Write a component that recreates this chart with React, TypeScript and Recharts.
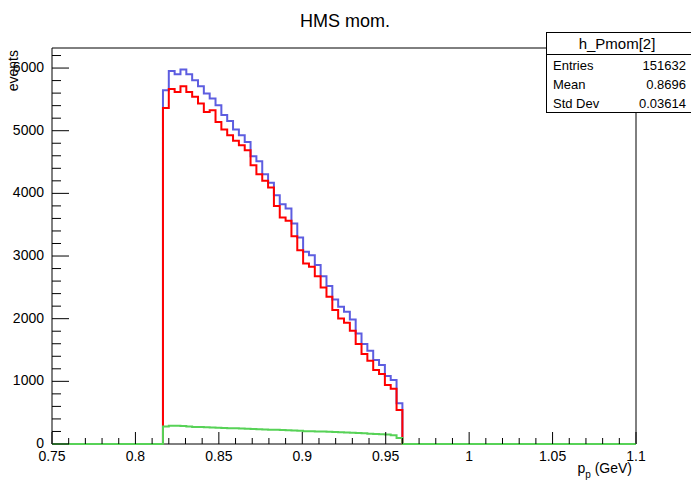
import { ComposedChart, Line, XAxis, YAxis, CartesianGrid } from 'recharts';

// histogram binning: 100 bins over 0.75 - 1.1 GeV, filled bins start at bin 19
const binLow = 0.75;
const binHigh = 1.1;
const nBins = 100;
const firstFilledBin = 19;

// counts per filled bin
const blueCounts = [
  5646, 5954, 5901, 5976, 5901, 5805, 5710, 5593, 5513, 5407,
  5250, 5156, 5019, 4928, 4821, 4593, 4513, 4306, 4168, 3971,
  3828, 3759, 3520, 3296, 3067, 3014, 2855, 2679, 2520, 2308,
  2190, 2110, 1988, 1765, 1595, 1488, 1340, 1260, 1085, 1020,
  650,
];
const redCounts = [
  5364, 5667, 5619, 5710, 5619, 5540, 5433, 5300, 5327, 5140,
  5019, 4928, 4838, 4769, 4689, 4450, 4306, 4200, 4094, 3800,
  3616, 3562, 3317, 3094, 2882, 2828, 2679, 2499, 2349, 2137,
  2004, 1935, 1807, 1595, 1435, 1329, 1180, 1116, 941, 880,
  542,
];
const greenCounts = [
  280, 290, 292, 288, 280, 272, 270, 268, 262, 258,
  255, 252, 250, 248, 245, 240, 236, 232, 228, 226,
  222, 218, 214, 210, 205, 203, 200, 198, 195, 190,
  186, 182, 178, 175, 170, 165, 160, 155, 150, 140,
  95,
];

const xMajorTicks = [0.75, 0.8, 0.85, 0.9, 0.95, 1, 1.05, 1.1];
const yMajorTicks = [0, 1000, 2000, 3000, 4000, 5000, 6000];
const yMax = 6320;

const binWidth = (binHigh - binLow) / nBins;
const data: any[] = [];
for (let i = 0; i <= nBins; i++) {
  const j = i - firstFilledBin;
  const pick = (arr: number[]) => (j >= 0 && j < arr.length ? arr[j] : 0);
  data.push({ x: binLow + i * binWidth, blue: pick(blueCounts), red: pick(redCounts), green: pick(greenCounts) });
}

const xTicks: number[] = [];
for (let k = 0; k <= 35; k++) xTicks.push(+(0.75 + k * 0.01).toFixed(2));
const yTicks: number[] = [];
for (let v = 0; v <= yMax; v += 200) yTicks.push(v);

const font = '"Liberation Sans", Arial, sans-serif';

const renderXTick = (props: any) => {
  const { x, payload } = props;
  const y = 444;
  const major = xMajorTicks.find((m) => Math.abs(m - payload.value) < 1e-6);
  return (
    <g key={`xt-${payload.value}`}>
      <line x1={x} x2={x} y1={y} y2={y - (major !== undefined ? 12 : 6)} stroke="#000" strokeWidth={1} />
      {major !== undefined && (
        <text x={x} y={y + 17} textAnchor="middle" fontSize={14} fill="#000" fontFamily={font}>
          {String(major)}
        </text>
      )}
    </g>
  );
};

const renderYTick = (props: any) => {
  const { y, payload } = props;
  const x = 52;
  const major = yMajorTicks.includes(payload.value);
  return (
    <g key={`yt-${payload.value}`}>
      <line x1={x} x2={x + (major ? 17 : 9)} y1={y} y2={y} stroke="#000" strokeWidth={1} />
      {major && (
        <text x={x - 8} y={y + 4} textAnchor="end" fontSize={14} fill="#000" fontFamily={font}>
          {payload.value}
        </text>
      )}
    </g>
  );
};

export default function App() {
  return (
    <div style={{ position: 'absolute', left: 0, top: 0, width: 691, height: 482, background: '#fff' }}>
      <ComposedChart width={691} height={482} data={data} margin={{ top: 48, right: 55, bottom: 8, left: 12 }}>
        <CartesianGrid
          horizontalValues={[0, yMax]}
          verticalValues={[binLow, binHigh]}
          stroke="#000"
          strokeWidth={1}
          strokeDasharray=""
        />
        <XAxis
          dataKey="x"
          type="number"
          domain={[binLow, binHigh]}
          ticks={xTicks}
          interval={0}
          height={30}
          tickSize={0}
          tickMargin={0}
          tickLine={false}
          tick={renderXTick}
          axisLine={false}
        />
        <YAxis
          type="number"
          domain={[0, yMax]}
          ticks={yTicks}
          interval={0}
          width={40}
          tickSize={0}
          tickMargin={0}
          tickLine={false}
          tick={renderYTick}
          axisLine={false}
        />
        <Line type="stepAfter" dataKey="blue" stroke="#5d5de0" strokeWidth={2} dot={false} activeDot={false} isAnimationActive={false} />
        <Line type="stepAfter" dataKey="red" stroke="#ff0000" strokeWidth={2} dot={false} activeDot={false} isAnimationActive={false} />
        <Line type="stepAfter" dataKey="green" stroke="#57d257" strokeWidth={2} dot={false} activeDot={false} isAnimationActive={false} />
      </ComposedChart>
      <svg width={691} height={482} style={{ position: 'absolute', left: 0, top: 0, pointerEvents: 'none' }} fontFamily={font}>
        <text x={345} y={27} textAnchor="middle" fontSize={18} fill="#000">HMS mom.</text>
        <text x={18} y={50} textAnchor="end" fontSize={14} fill="#000" transform="rotate(-90 18 50)">events</text>
        <text x={632} y={473} textAnchor="end" fontSize={14} fill="#000">
          p<tspan dy={5} fontSize={10}>p</tspan><tspan dy={-5}> (GeV)</tspan>
        </text>
        <rect x={546.5} y={32.5} width={150} height={80} fill="#fff" stroke="#000" strokeWidth={1} />
        <line x1={546} x2={691} y1={54.5} y2={54.5} stroke="#000" strokeWidth={1} />
        <text x={617} y={49} textAnchor="middle" fontSize={15} fill="#000">h_Pmom[2]</text>
        <text x={553} y={70} fontSize={13} fill="#000">Entries</text>
        <text x={686} y={70} textAnchor="end" fontSize={13} fill="#000">151632</text>
        <text x={553} y={89} fontSize={13} fill="#000">Mean</text>
        <text x={686} y={89} textAnchor="end" fontSize={13} fill="#000">0.8696</text>
        <text x={553} y={108} fontSize={13} fill="#000">Std Dev</text>
        <text x={686} y={108} textAnchor="end" fontSize={13} fill="#000">0.03614</text>
      </svg>
    </div>
  );
}
